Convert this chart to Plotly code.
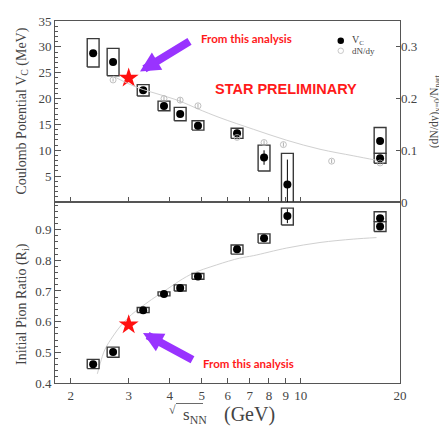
import math
import plotly.graph_objects as go

# ---------------- data ----------------
energy = [2.34, 2.69, 3.32, 3.84, 4.30, 4.87, 6.4, 7.73, 9.1, 17.4, 17.4]
vc = [28.75, 27.07, 21.6, 18.56, 17.0, 14.75, 13.3, 8.6, 3.4, 11.8, 8.45]
vc_err = [0.6, 0.6, 0.5, 0.5, 0.6, 0.7, 0.7, 1.4, 4.8, 0.6, 0.6]
vc_sys_lo = [26.1, 24.4, 20.5, 17.65, 15.7, 13.9, 12.3, 6.0, -2.0, 9.4, 7.5]
vc_sys_hi = [31.6, 29.7, 22.7, 19.5, 18.3, 15.7, 14.25, 11.0, 9.4, 14.4, 9.4]

pion = [0.461, 0.501, 0.637, 0.690, 0.710, 0.747, 0.836, 0.872, 0.944, 0.937, 0.910]
pion_err = [0.004, 0.004, 0.004, 0.004, 0.004, 0.004, 0.005, 0.005, 0.023, 0.006, 0.006]
pion_sys_lo = [0.447, 0.484, 0.630, 0.684, 0.700, 0.738, 0.820, 0.856, 0.915, 0.926, 0.894]
pion_sys_hi = [0.477, 0.517, 0.646, 0.697, 0.720, 0.757, 0.850, 0.886, 0.970, 0.958, 0.926]

dndy_energy = [2.69, 3.84, 4.30, 4.87, 6.4, 7.73, 8.85, 12.4, 17.4]
dndy = [0.236, 0.200, 0.197, 0.186, 0.125, 0.115, 0.111, 0.079, 0.0755]
dndy_err = [0.003, 0.004, 0.005, 0.004, 0.004, 0.004, 0.004, 0.004, 0.003]

dndy_fit_x = [2.69, 3.17, 3.82, 4.30, 4.85, 5.68, 7.17, 9.06, 11.43, 14.42, 16.97]
dndy_fit_y = [0.2433, 0.2220, 0.2056, 0.1950, 0.1804, 0.1630, 0.1407, 0.1194, 0.1020, 0.0894, 0.0807]

pion_fit_x = [2.41, 2.46, 2.54, 2.69, 2.86, 3.06, 3.25, 3.52, 3.78, 4.61, 5.55, 6.52, 7.17, 9.06, 11.43, 14.42, 16.97]
pion_fit_y = [0.43, 0.465, 0.509, 0.553, 0.591, 0.623, 0.645, 0.672, 0.694, 0.753, 0.785, 0.807, 0.815, 0.840, 0.858, 0.869, 0.874]

star_energy = [3.0]
star_vc = [24.0]
star_pion = [0.59]

x_tickvals = [2, 3, 4, 5, 6, 7, 8, 9, 10, 20]
x_ticktext = ["2", "3", "4", "5", "6", "7", "8", "9", "10", "20"]
vc_ticks = [5, 10, 15, 20, 25, 30, 35]
pion_ticks = [0.4, 0.5, 0.6, 0.7, 0.8, 0.9]
dndy_ticks = [0, 0.1, 0.2, 0.3]

# ---------------- layout geometry ----------------
OFF = 8  # page body margin in the browser
W, H = 447, 432
PL, PR, PT, PB = 55, 400, 21, 383  # plot area in page pixels
PW, PH = PR - PL, PB - PT
ML, MT = PL - OFF, PT - OFF
MR, MB = W - ML - PW, H - MT - PH


def px(x):
    return (x - PL) / PW


def py(y):
    return 1 - (y - PT) / PH


SERIF = "Liberation Serif"
AX = "#555555"
TXT = "#444444"
HALF = 0.018  # half box width in decades


def box_path(xs, lo, hi):
    bx, by = [], []
    for x, l, h in zip(xs, lo, hi):
        x0, x1 = x / 10 ** HALF, x * 10 ** HALF
        bx += [x0, x1, x1, x0, x0, None]
        by += [l, l, h, h, l, None]
    return bx, by


fig = go.Figure()

# ---- top panel ----
fig.add_trace(go.Scatter(x=dndy_fit_x, y=dndy_fit_y, mode="lines", xaxis="x2", yaxis="y3",
                         line=dict(color="#d0d0d0", width=1, shape="spline"), hoverinfo="skip"))
fig.add_trace(go.Scatter(x=dndy_energy, y=dndy, mode="markers", xaxis="x2", yaxis="y3",
                         marker=dict(symbol="circle-open", size=6, color="#b0b0b0", line=dict(width=0.8)),
                         error_y=dict(type="data", array=dndy_err, color="#999999", thickness=0.8, width=0)))
bx, by = box_path(energy, vc_sys_lo, vc_sys_hi)
fig.add_trace(go.Scatter(x=bx, y=by, mode="lines", xaxis="x2", yaxis="y2",
                         line=dict(color="#3a3a3a", width=1.4), hoverinfo="skip"))
fig.add_trace(go.Scatter(x=energy, y=vc, mode="markers", xaxis="x2", yaxis="y2",
                         marker=dict(color="black", size=8),
                         error_y=dict(type="data", array=vc_err, color="black", thickness=1, width=0)))
fig.add_trace(go.Scatter(x=star_energy, y=star_vc, mode="markers", xaxis="x2", yaxis="y2",
                         marker=dict(symbol="star", color="#ff1010", size=15, line=dict(width=0))))

# ---- bottom panel ----
fig.add_trace(go.Scatter(x=pion_fit_x, y=pion_fit_y, mode="lines", xaxis="x", yaxis="y",
                         line=dict(color="#d0d0d0", width=1, shape="spline"), hoverinfo="skip"))
bx, by = box_path(energy, pion_sys_lo, pion_sys_hi)
fig.add_trace(go.Scatter(x=bx, y=by, mode="lines", xaxis="x", yaxis="y",
                         line=dict(color="#3a3a3a", width=1.4), hoverinfo="skip"))
fig.add_trace(go.Scatter(x=energy, y=pion, mode="markers", xaxis="x", yaxis="y",
                         marker=dict(color="black", size=8),
                         error_y=dict(type="data", array=pion_err, color="black", thickness=1, width=0)))
fig.add_trace(go.Scatter(x=star_energy, y=star_pion, mode="markers", xaxis="x", yaxis="y",
                         marker=dict(symbol="star", color="#ff1010", size=15, line=dict(width=0))))

xr = [math.log10(2) - 15.7 / 329.3, math.log10(20)]
common_x = dict(type="log", range=xr, tickvals=x_tickvals, showline=True, linecolor=AX, linewidth=1,
                mirror=True, ticks="inside", ticklen=5, tickcolor=AX, showgrid=False, zeroline=False)
tickfont = dict(family=SERIF, size=13, color=TXT)

fig.update_layout(
    width=W, height=H, margin=dict(l=ML, r=MR, t=MT, b=MB, autoexpand=False),
    paper_bgcolor="white", plot_bgcolor="white", showlegend=False,
    xaxis=dict(**common_x, anchor="y", ticktext=x_ticktext, tickfont=tickfont),
    xaxis2=dict(**common_x, anchor="y2", matches="x", showticklabels=False),
    yaxis=dict(domain=[0, 0.5], range=[0.4, 0.99], tickvals=pion_ticks, tickformat=".1f",
               showline=True, linecolor=AX, mirror=True, ticks="inside", ticklen=6, tickcolor=AX,
               minor=dict(dtick=0.02, ticks="inside", ticklen=3, tickcolor=AX),
               showgrid=False, zeroline=False, tickfont=tickfont),
    yaxis2=dict(domain=[0.5, 1], range=[0, 35], tickvals=vc_ticks, anchor="x2",
                showline=True, linecolor=AX, mirror=True, ticks="inside", ticklen=6, tickcolor=AX,
                minor=dict(dtick=1, ticks="inside", ticklen=3, tickcolor=AX),
                showgrid=False, zeroline=False, tickfont=tickfont),
    yaxis3=dict(overlaying="y2", side="right", anchor="x2", range=[0, 0.35], tickvals=dndy_ticks,
                ticktext=["0", "0.1", "0.2", "0.3"], ticks="inside", ticklen=4, tickcolor=AX,
                showline=False, showgrid=False, zeroline=False, tickfont=tickfont),
)


def label(x, y, text, font, angle=0, xanchor="center"):
    return dict(x=px(x), y=py(y), xref="paper", yref="paper", text=text, showarrow=False,
                textangle=angle, font=font, xanchor=xanchor, yanchor="middle")


ann = []
ann.append(label(22, 111.5, "Coulomb Potential V<sub>C</sub> (MeV)", dict(family=SERIF, size=14, color=TXT), -90))
ann.append(label(22, 304, "Initial Pion Ratio (R<sub>i</sub>)", dict(family=SERIF, size=14, color=TXT), -90))
ann.append(label(435, 111, "(dN/dy)<sub>y=0</sub>/N<sub>part</sub>", dict(family=SERIF, size=11.5, color=TXT), -90))
ann.append(label(172, 410, "√", dict(family=SERIF, size=12, color=TXT)))
ann.append(label(181, 416, "s<sub>NN</sub>", dict(family=SERIF, size=17, color=TXT), xanchor="left"))
ann.append(label(249, 414, "(GeV)", dict(family=SERIF, size=20, color=TXT)))
red_font = dict(family="Lato", size=11.5, color="#ff1a1a", weight="bold")
ann.append(label(246.5, 38, "From this analysis", red_font))
ann.append(label(248.3, 363.5, "From this analysis", red_font))
ann.append(label(285.5, 88.5, "STAR PRELIMINARY",
                 dict(family="Liberation Sans", size=14.5, color="#ff1a1a", weight="bold")))
for tip, tail in [((140, 71.5), (191, 40.5)), ((143, 333), (194, 360.5))]:
    ann.append(dict(x=px(tip[0]), y=py(tip[1]), xref="paper", yref="paper", text="", showarrow=True,
                    ax=tail[0] - tip[0], ay=tail[1] - tip[1], arrowcolor="#9933ff",
                    arrowwidth=8, arrowhead=2, arrowsize=0.5, standoff=0))
ann.append(label(350, 40.5, "V<sub>C</sub>", dict(family=SERIF, size=10, color=TXT), xanchor="left"))
ann.append(label(350, 51, "dN/dy", dict(family=SERIF, size=9, color=TXT), xanchor="left"))

shapes = [
    dict(type="circle", xref="paper", yref="paper", x0=px(337.5), x1=px(344), y0=py(37.5), y1=py(44),
         fillcolor="black", line=dict(width=0)),
    dict(type="circle", xref="paper", yref="paper", x0=px(338), x1=px(343.5), y0=py(48), y1=py(53.5),
         line=dict(color="#bbbbbb", width=0.8)),
    dict(type="line", xref="paper", yref="paper", x0=px(176), x1=px(203), y0=py(403.5), y1=py(403.5),
         line=dict(color=TXT, width=0.8)),
    dict(type="line", xref="paper", yref="paper", x0=px(446), x1=px(446), y0=py(0), y1=py(432),
         line=dict(color="#dddddd", width=1)),
]
fig.update_layout(annotations=ann, shapes=shapes)

fig.write_html("out.html")
